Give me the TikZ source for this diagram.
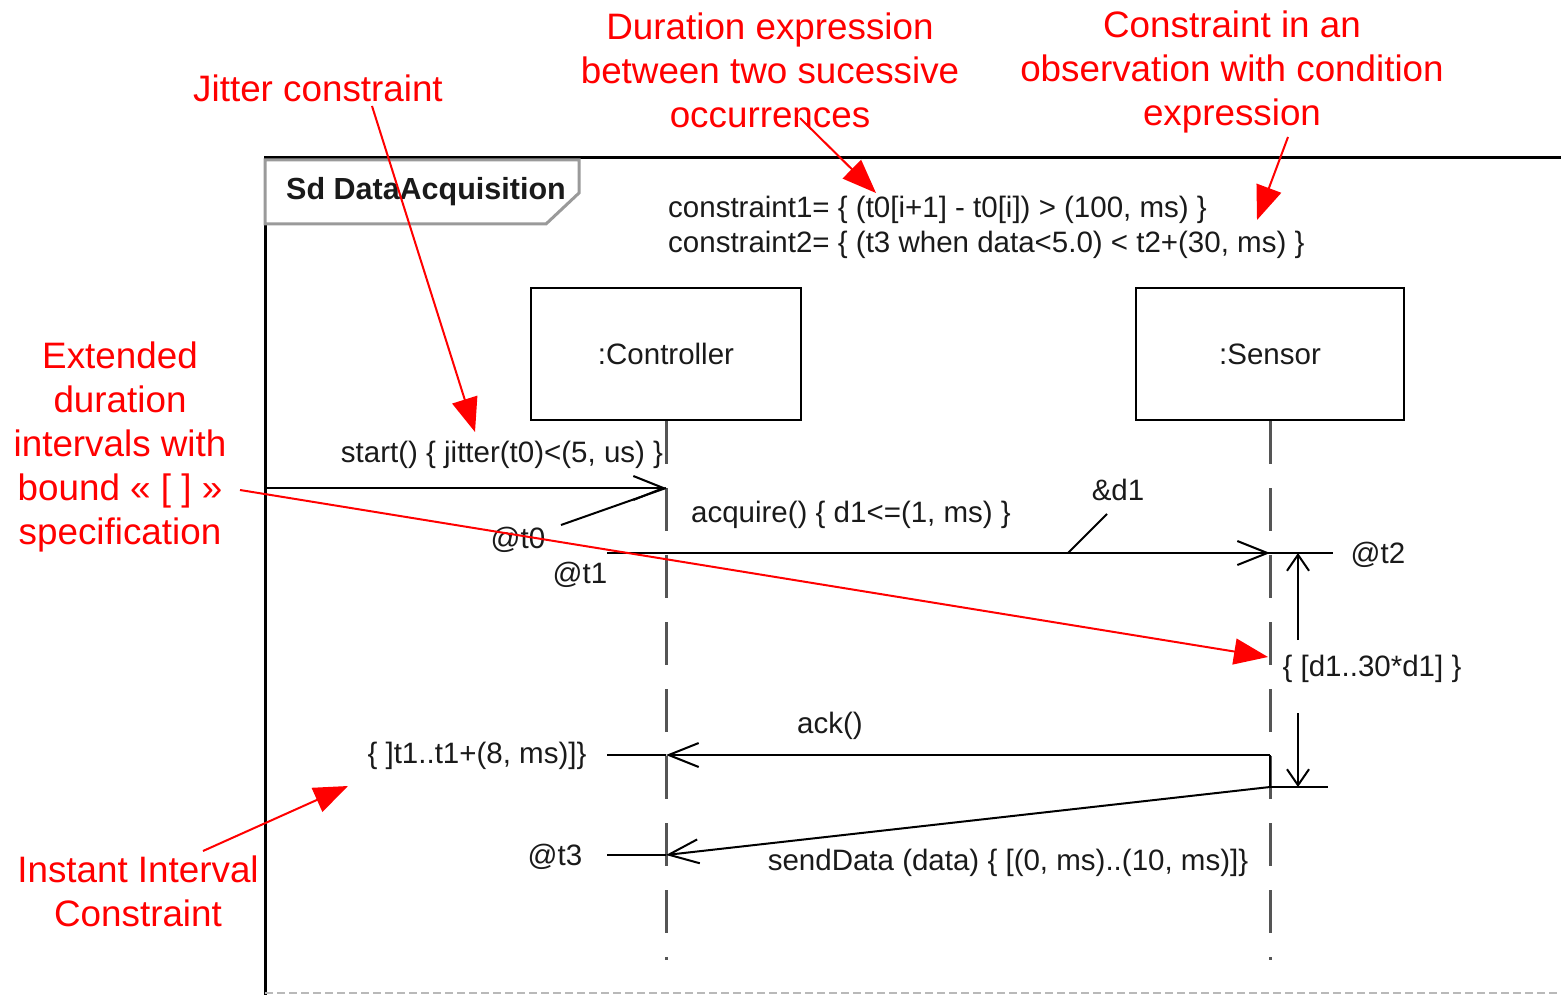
\documentclass[tikz,border=0pt]{standalone}
\usepackage{fontspec}
\setmainfont{Liberation Sans}
\usetikzlibrary{arrows.meta}
\definecolor{ink}{HTML}{1A1A1A}
\definecolor{lifegray}{HTML}{555555}
\definecolor{tabgray}{HTML}{9A9A9A}
\definecolor{notered}{HTML}{FF0000}
\tikzset{
  lbl/.style={font=\fontsize{29.5}{35}\selectfont, text=ink, inner sep=0pt, yshift=-2pt},
  titlelbl/.style={font=\fontsize{30.5}{36}\selectfont\bfseries, text=ink, inner sep=0pt},
  note/.style={font=\fontsize{36.8}{44}\selectfont, text=notered, align=center, inner sep=0pt},
  objbox/.style={draw=black, line width=2.2pt, inner sep=0pt, font=\fontsize{29.5}{35}\selectfont, text=ink},
  lifeline/.style={draw=lifegray, line width=3pt, dash pattern=on 43pt off 24pt},
  msg/.style={draw=black, line width=2pt, -{Straight Barb[length=30pt,width=24pt]}},
  plainline/.style={draw=black, line width=2pt},
  durline/.style={draw=black, line width=2pt, -{Straight Barb[length=16pt,width=22pt]}},
  callout/.style={draw=notered, line width=2pt, -{Triangle[length=34pt,width=26pt]}},
}
\begin{document}
\begin{tikzpicture}[x=1pt,y=-1pt]
\useasboundingbox (0,0) rectangle (1561,995);

% interaction frame
\draw[black, line width=3pt] (1561,158) -- (265,158) -- (265,995);
\draw[gray!55, line width=1.5pt, dash pattern=on 8pt off 4pt] (265,993) -- (1561,993);
\filldraw[fill=white, draw=tabgray, line width=3pt]
  (265,160) -- (579,160) -- (579,193) -- (546,224) -- (265,224) -- cycle;
\node[titlelbl] (title) at (426,192) {Sd DataAcquisition};

% timing constraints
\node[lbl, anchor=west] (c1) at (668,208) {constraint1= \{ (t0[i+1] - t0[i]) > (100, ms) \}};
\node[lbl, anchor=west] (c2) at (668,243) {constraint2= \{ (t3 when data<5.0) < t2+(30, ms) \}};

% lifelines
\node[objbox, minimum width=270pt, minimum height=132pt] (ctrl) at (666,354) {:Controller};
\node[objbox, minimum width=268pt, minimum height=132pt] (sens) at (1270,354) {:Sensor};
\coordinate (ctrlend) at (666,960);
\coordinate (sensend) at (1270,960);
\draw[lifeline] (ctrl.south) -- (ctrlend);
\draw[lifeline] (sens.south) -- (sensend);

% message points
\coordinate (gate) at (265,488);
\coordinate (ctrlA) at (666,488);
\coordinate (t1tick) at (607,553);
\coordinate (ctrlB) at (666,553);
\coordinate (sensB) at (1270,553);
\coordinate (t2tick) at (1333,553);
\coordinate (sensC) at (1270,755);
\coordinate (ctrlC) at (666,755);
\coordinate (acktick) at (607,755);
\coordinate (sensD) at (1270,787);
\coordinate (dtick) at (1328,787);
\coordinate (ctrlD) at (666,855);
\coordinate (t3tick) at (607,855);

% messages
\draw[msg] (gate) -- (ctrlA);
\draw[plainline] (t1tick) -- (t2tick);
\draw[msg] (ctrlB) -- (sensB);
\draw[msg] (sensC) -- (ctrlC);
\draw[plainline] (ctrlC) -- (acktick);
\draw[plainline] (sensC) -- (sensD);
\draw[plainline] (sensD) -- (dtick);
\draw[msg] (sensD) -- (ctrlD);
\draw[plainline] (ctrlD) -- (t3tick);

% message labels
\node[lbl] (startlbl) at (502,453) {start() \{ jitter(t0)<(5, us) \}};
\node[lbl] (acqlbl) at (851,513) {acquire() \{ d1<=(1, ms) \}};
\node[lbl] (acklbl) at (830,724) {ack()};
\node[lbl] (sendlbl) at (1008,861) {sendData (data) \{ [(0, ms)..(10, ms)]\}};

% observations
\node[lbl] (t0lbl) at (518,538) {@t0};
\coordinate (t0foot) at (561,525);
\draw[plainline] (t0foot) -- (ctrlA);
\node[lbl] (t1lbl) at (580,573) {@t1};
\node[lbl] (t2lbl) at (1378,553) {@t2};
\node[lbl] (t3lbl) at (555,855) {@t3};
\node[lbl] (d1lbl) at (1118,488) {\&d1};
\coordinate (d1foot) at (1107,514);
\coordinate (d1hit) at (1068,553);
\draw[plainline] (d1foot) -- (d1hit);

% duration constraint
\coordinate (durtop) at (1298,553);
\coordinate (durbot) at (1298,787);
\coordinate (durup) at (1298,640);
\coordinate (durdown) at (1298,713);
\draw[durline] (durup) -- (durtop);
\draw[durline] (durdown) -- (durbot);
\node[lbl] (durlbl) at (1372,667) {\{ [d1..30*d1] \}};
\node[lbl] (instlbl) at (477,754) {\{ ]t1..t1+(8, ms)]\}};

% annotations
\node[note] (njitter) at (318,88) {Jitter constraint};
\node[note] (ndur) at (770,70) {Duration expression\\between two sucessive\\occurrences};
\node[note] (nobs) at (1232,72) {Constraint in an\\observation with condition\\expression};
\node[note] (next) at (120,447) {Extended\\duration\\intervals with\\bound « [ ] »\\specification};
\node[note] (ninst) at (138,891) {Instant Interval\\Constraint};

\coordinate (ajs) at (372,106);
\coordinate (ajt) at (475,432);
\coordinate (ads) at (800,118);
\coordinate (adt) at (876,193);
\coordinate (aos) at (1288,137);
\coordinate (aot) at (1257,220);
\coordinate (aes) at (240,490);
\coordinate (aet) at (1268,657);
\coordinate (ais) at (203,851);
\coordinate (ait) at (348,786);
\draw[callout] (ajs) -- (ajt);
\draw[callout] (ads) -- (adt);
\draw[callout] (aos) -- (aot);
\draw[callout] (aes) -- (aet);
\draw[callout] (ais) -- (ait);
\end{tikzpicture}
\end{document}
